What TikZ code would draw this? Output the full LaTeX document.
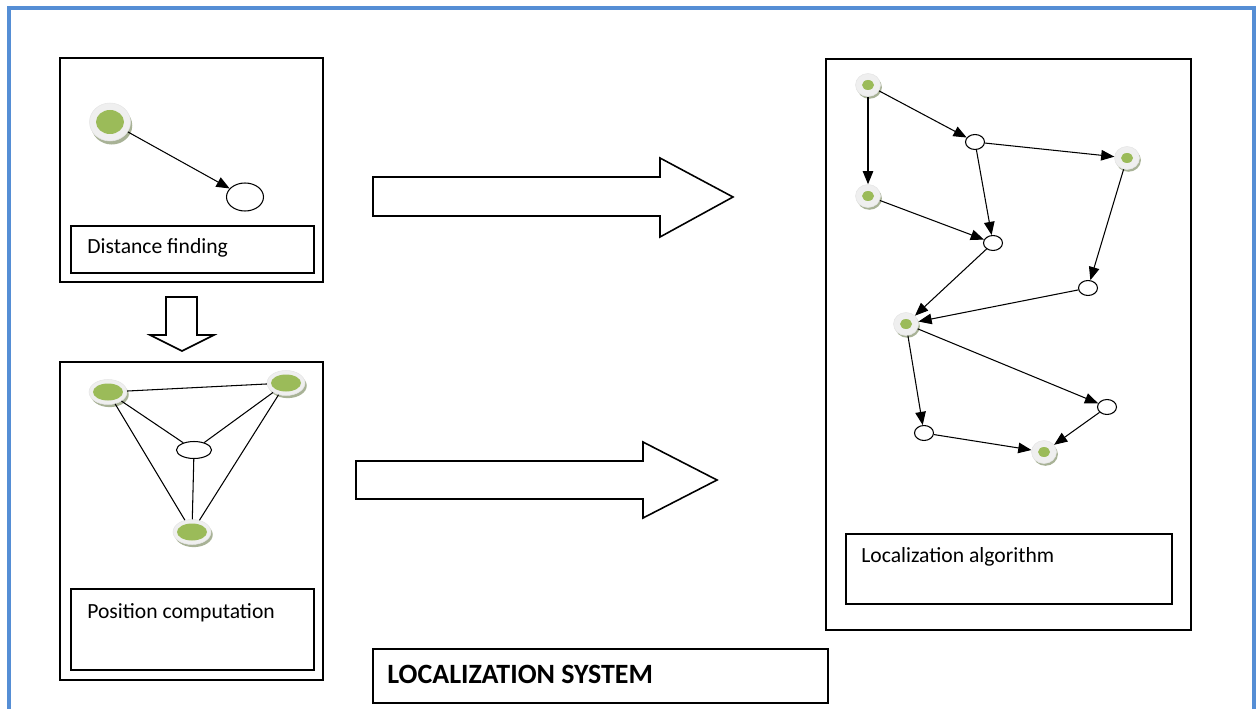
\documentclass[tikz,border=0pt]{standalone}
\usepackage{fontspec}
\setmainfont{Carlito}
\usetikzlibrary{arrows.meta,shadows,shapes.geometric}
\definecolor{frameblue}{HTML}{558ED5}
\definecolor{nodegreen}{HTML}{9BBB59}
\definecolor{ringgray}{HTML}{EFEFEF}
\definecolor{shadowc}{HTML}{A8B296}
\begin{document}
\begin{tikzpicture}[x=0.02cm,y=-0.02cm,
  panel/.style={draw=black, line width=1.1pt},
  labelbox/.style={draw=black, line width=0.8pt},
  blockarrow/.style={draw=black, fill=white, line width=0.9pt, line join=miter},
  lbl/.style={anchor=base west, inner sep=0pt, font=\fontsize{12.3}{14}\selectfont},
  gnode/.style n args={6}{ellipse, inner sep=0pt, minimum width=#1, minimum height=#2,
    fill=ringgray, draw=gray!20, line width=0.3pt,
    drop shadow={shadow xshift=#5, shadow yshift=#6, fill=shadowc, opacity=1},
    path picture={\fill[nodegreen] (path picture bounding box.center) ellipse [x radius=#3, y radius=#4];}},
  wnode/.style 2 args={ellipse, draw=black, fill=white, line width=0.6pt, inner sep=0pt,
    minimum width=#1, minimum height=#2},
  edge/.style={draw=black, line width=0.6pt},
  arr/.style={edge, -{Triangle[length=7.5pt, width=6pt]}},
]
\useasboundingbox (0,0) rectangle (1256,709);
% outer blue frame (open at the bottom)
\draw[frameblue, line width=2.2pt] (9,709) -- (9,8) -- (1254,8) -- (1254,709);

% ---------- Panel 1: distance finding ----------
\draw[panel] (60,58) rectangle (323,282);
\draw[labelbox] (71,226) rectangle (314,273);
\node[lbl] (tdist) at (87,254) {Distance finding};
\node[gnode={0.82cm}{0.76cm}{0.28cm}{0.24cm}{1pt}{-2pt}] (da) at (110,122) {};
\node[wnode={0.74cm}{0.56cm}] (db) at (245,197) {};
\draw[arr] (da) -- (db);

% down block arrow
\draw[blockarrow] (166,297) -- (197,297) -- (197,335) -- (214,335) -- (182,351)
  -- (150,335) -- (166,335) -- cycle;

% ---------- Panel 2: position computation ----------
\draw[panel] (60,362) rectangle (323,680);
\draw[labelbox] (71,589) rectangle (314,670);
\node[lbl] (tpos) at (87,618) {Position computation};
\node[gnode={0.76cm}{0.5cm}{0.3cm}{0.17cm}{1pt}{-1.5pt}] (pa) at (108,392) {};
\node[gnode={0.76cm}{0.5cm}{0.3cm}{0.17cm}{1pt}{-1.5pt}] (pb) at (286,383) {};
\node[gnode={0.76cm}{0.5cm}{0.3cm}{0.17cm}{1pt}{-1.5pt}] (pc) at (192,532) {};
\node[wnode={0.7cm}{0.34cm}] (pm) at (194,450) {};
\draw[edge] (pa) -- (pb);
\draw[edge] (pa) -- (pm);
\draw[edge] (pb) -- (pm);
\draw[edge] (pa) -- (pc);
\draw[edge] (pb) -- (pc);
\draw[edge] (pm) -- (pc);

% right block arrows
\draw[blockarrow] (373,177) -- (660,177) -- (660,158) -- (733,197) -- (660,237)
  -- (660,216) -- (373,216) -- cycle;
\draw[blockarrow] (356,461) -- (643,461) -- (643,442) -- (717,480) -- (643,518)
  -- (643,499) -- (356,499) -- cycle;

% ---------- Panel 3: localization algorithm ----------
\draw[panel] (826,59) rectangle (1191,630);
\draw[labelbox] (846,534) rectangle (1172,604);
\node[lbl] (talg) at (861,562) {Localization algorithm};
\tikzset{sg/.style={gnode={0.5cm}{0.46cm}{0.12cm}{0.1cm}{0.8pt}{-1.3pt}},
         sw/.style={wnode={0.38cm}{0.3cm}}}
\node[sg] (g1) at (868,85) {};
\node[sw] (w1) at (975,142) {};
\node[sg] (g2) at (1127,158) {};
\node[sg] (g3) at (868,196) {};
\node[sw] (w2) at (993,243) {};
\node[sw] (w3) at (1088,288) {};
\node[sg] (g4) at (906,324) {};
\node[sw] (w4) at (1107,407) {};
\node[sw] (w5) at (924,433) {};
\node[sg] (g5) at (1044,452) {};
\draw[arr] (g1) -- (w1);
\draw[arr] (g1) -- (g3);
\draw[arr] (w1) -- (g2);
\draw[arr] (w1) -- (w2);
\draw[arr] (g3) -- (w2);
\draw[arr] (g2) -- (w3);
\draw[arr] (w2) -- (g4);
\draw[arr] (w3) -- (g4);
\draw[arr] (g4) -- (w4);
\draw[arr] (g4) -- (w5);
\draw[arr] (w5) -- (g5);
\draw[arr] (w4) -- (g5);

% ---------- title box ----------
\draw[panel] (373,649) rectangle (828,703);
\node[anchor=base west, inner sep=0pt, font=\fontsize{15.9}{18}\selectfont\bfseries] (title) at (387,683) {LOCALIZATION SYSTEM};
\end{tikzpicture}
\end{document}
